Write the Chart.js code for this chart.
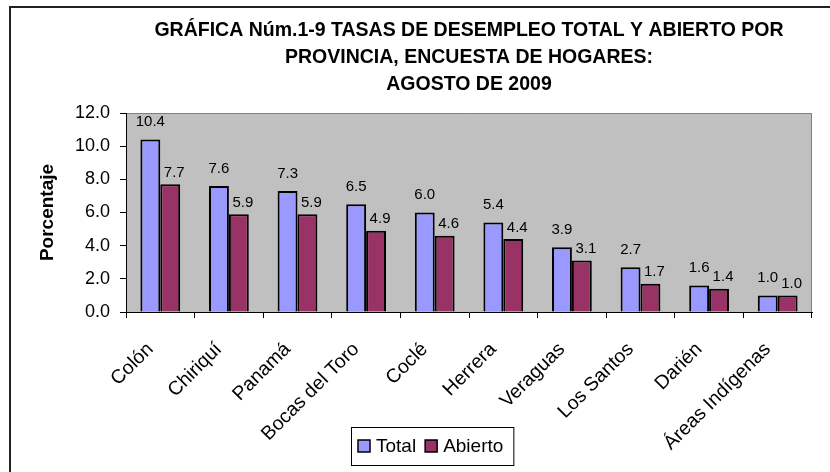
<!DOCTYPE html>
<html>
<head>
<meta charset="utf-8">
<script src="https://cdn.jsdelivr.net/npm/chart.js@4.4.0/dist/chart.umd.min.js"></script>
<style>
html, body { margin: 0; padding: 0; background: #fff; }
#wrap { position: relative; width: 830px; height: 472px; }
</style>
</head>
<body>
<div id="wrap"><canvas id="myChart"></canvas></div>
<script>
// datos de la grafica
var provincias = ['Colón', 'Chiriquí', 'Panamá', 'Bocas del Toro', 'Coclé', 'Herrera', 'Veraguas', 'Los Santos', 'Darién', 'Áreas Indígenas'];
var tasaTotal = [10.4, 7.6, 7.3, 6.5, 6.0, 5.4, 3.9, 2.7, 1.6, 1.0];
var tasaAbierto = [7.7, 5.9, 5.9, 4.9, 4.6, 4.4, 3.1, 1.7, 1.4, 1.0];
var yTicks = [0, 2, 4, 6, 8, 10, 12];
var tituloLineas = ['GRÁFICA Núm.1-9 TASAS DE DESEMPLEO TOTAL Y ABIERTO POR', 'PROVINCIA, ENCUESTA DE HOGARES:', 'AGOSTO DE 2009'];

Chart.defaults.font.family = '"Liberation Sans", Arial, sans-serif';
Chart.defaults.color = '#000';

// fondo gris del area y marco exterior
var marco = {
  id: 'marco',
  beforeDraw: function (chart) {
    var c = chart.ctx, a = chart.chartArea;
    c.save();
    c.fillStyle = '#fff';
    c.fillRect(0, 0, chart.width, chart.height);
    c.fillStyle = '#C0C0C0';
    c.fillRect(a.left, a.top, a.right - a.left, a.bottom - a.top);
    c.strokeStyle = '#808080';
    c.lineWidth = 1;
    c.beginPath();
    c.moveTo(a.left, a.top + 0.5);
    c.lineTo(a.right - 0.5, a.top + 0.5);
    c.lineTo(a.right - 0.5, a.bottom);
    c.stroke();
    c.strokeStyle = '#222';
    c.lineWidth = 2;
    c.beginPath();
    c.moveTo(10, chart.height);
    c.lineTo(10, 7);
    c.lineTo(chart.width, 7);
    c.stroke();
    c.restore();
  }
};

// etiquetas de valor encima de cada barra
var etiquetas = {
  id: 'etiquetas',
  afterDatasetsDraw: function (chart) {
    var c = chart.ctx;
    c.save();
    c.font = '15px "Liberation Sans", Arial, sans-serif';
    c.fillStyle = '#000';
    c.textAlign = 'center';
    c.textBaseline = 'bottom';
    chart.data.datasets.forEach(function (ds, i) {
      chart.getDatasetMeta(i).data.forEach(function (bar, j) {
        c.fillText(ds.data[j].toFixed(1), bar.x + (i ? 4 : 0), bar.y - (i ? 4 : 10));
      });
    });
    c.restore();
  }
};

// leyenda con recuadro
var leyenda = {
  id: 'leyenda',
  afterDraw: function (chart) {
    var c = chart.ctx;
    c.save();
    c.font = '19px "Liberation Sans", Arial, sans-serif';
    var sq = 12, items = chart.data.datasets.map(function (ds) {
      return { t: ds.label, col: ds.backgroundColor, w: c.measureText(ds.label).width };
    });
    var w = 7 + 10 + 9 * (items.length - 1);
    items.forEach(function (it) { w += sq + 6 + it.w; });
    var h = 38, cx = 432, cy = 446;
    var x = Math.round(cx - w / 2), y = Math.round(cy - h / 2);
    c.fillStyle = '#fff';
    c.fillRect(x, y, w, h);
    c.strokeStyle = '#000';
    c.lineWidth = 1;
    c.strokeRect(x + 0.5, y + 0.5, w, h);
    var px = x + 7;
    c.textBaseline = 'middle';
    c.textAlign = 'left';
    items.forEach(function (it) {
      c.fillStyle = it.col;
      c.fillRect(px, cy - sq / 2, sq, sq);
      c.lineWidth = 1.5;
      c.strokeRect(px, cy - sq / 2, sq, sq);
      c.fillStyle = '#000';
      c.fillText(it.t, px + sq + 6, cy + 1);
      px += sq + 6 + it.w + 9;
    });
    c.restore();
  }
};

var ctx = document.getElementById('myChart').getContext('2d');
var myChart = new Chart(ctx, {
  type: 'bar',
  data: {
    labels: provincias,
    datasets: [{
      label: 'Total',
      data: tasaTotal,
      backgroundColor: '#9999FF',
      borderColor: '#000',
      borderWidth: 2,
      barPercentage: 1,
      categoryPercentage: 0.58
    }, {
      label: 'Abierto',
      data: tasaAbierto,
      backgroundColor: '#993366',
      borderColor: '#000',
      borderWidth: 2,
      barPercentage: 1,
      categoryPercentage: 0.58
    }]
  },
  options: {
    responsive: true,
    maintainAspectRatio: false,
    animation: false,
    layout: { padding: { left: 0, right: 18, top: 0, bottom: 0 } },
    plugins: {
      legend: { display: false },
      tooltip: { enabled: false },
      title: {
        display: true,
        text: tituloLineas,
        fullSize: false,
        color: '#000',
        font: { size: 19.5, weight: 'bold', lineHeight: 27 / 19.5 },
        padding: { top: 17.5, bottom: 14.5 }
      }
    },
    scales: {
      x: {
        grid: { offset: true, drawOnChartArea: false, tickLength: 6, color: '#000' },
        border: { color: '#000', width: 1 },
        ticks: { color: '#000', font: { size: 19.5 }, maxRotation: 45, minRotation: 45, padding: 20, labelOffset: -10, autoSkip: false },
        afterFit: function (s) { s.height = 160; }
      },
      y: {
        min: yTicks[0],
        max: yTicks[yTicks.length - 1],
        ticks: {
          stepSize: yTicks[1] - yTicks[0],
          color: '#000',
          font: { size: 18 },
          padding: 10,
          callback: function (v) { return v.toFixed(1); }
        },
        grid: { drawOnChartArea: false, tickLength: 6, color: '#000' },
        border: { color: '#000', width: 1 },
        title: {
          display: true,
          text: 'Porcentaje',
          color: '#000',
          font: { size: 19, weight: 'bold' },
          padding: { top: 36, bottom: 0 }
        },
        afterFit: function (s) { s.width = 126; }
      }
    }
  },
  plugins: [marco, etiquetas, leyenda]
});
</script>
</body>
</html>
